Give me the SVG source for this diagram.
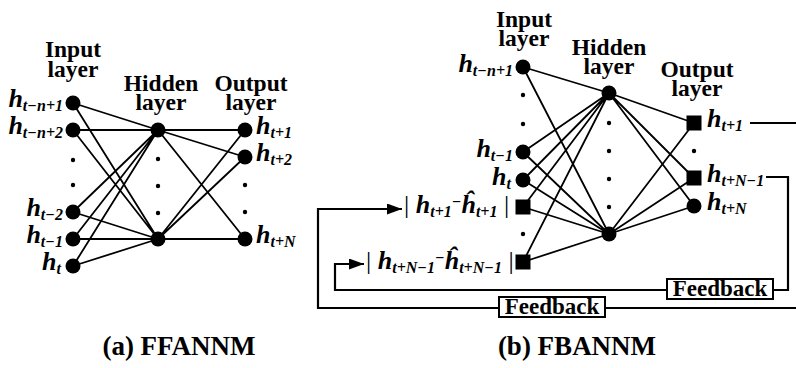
<svg xmlns="http://www.w3.org/2000/svg" width="796" height="368" viewBox="0 0 796 368">
<style>
.ln{stroke:#000;stroke-width:1.8;fill:none}
.fb{stroke:#000;stroke-width:2.2;fill:none}
.nd{fill:#000}
.hd{font-family:"Liberation Serif","Times New Roman",serif;font-weight:bold;font-size:23.5px;text-anchor:middle}
.lb{font-family:"Liberation Serif","Times New Roman",serif;font-weight:bold;font-style:italic;font-size:26px}
.sb{font-size:16px}
.bar{font-style:normal;font-weight:normal}
.box{fill:#fff;stroke:#000;stroke-width:2}
.bt{font-family:"Liberation Serif","Times New Roman",serif;font-weight:bold;font-size:23px;text-anchor:middle}
.cap{font-family:"Liberation Serif","Times New Roman",serif;font-weight:bold;font-size:27px;text-anchor:middle}
</style>
<defs>
<marker id="ar" markerWidth="15" markerHeight="11" refX="15" refY="5.5" orient="auto" markerUnits="userSpaceOnUse"><path d="M0,0 L15,5.5 L0,11 z" fill="#000"/></marker>
</defs>
<rect width="796" height="368" fill="#fff"/>

<g id="connectors">
<path class="ln" d="M73,103L158,130M73,103L158,239M73,130L158,130M73,130L158,239M73,212L158,130M73,212L158,239M73,239L158,130M73,239L158,239M73,266L158,130M73,266L158,239"/>
<path class="ln" d="M158,130L245,130M158,130L245,157M158,130L245,239M158,239L245,130M158,239L245,157M158,239L245,239"/>
<path class="ln" d="M523,67L609,93M523,67L609,234M523,152L609,93M523,152L609,234M523,180L609,93M523,180L609,234M523,207L609,93M523,207L609,234M523,262L609,93M523,262L609,234"/>
<path class="ln" d="M609,93L694,123M609,93L694,178M609,93L694,206M609,234L694,123M609,234L694,178M609,234L694,206"/>
<path class="fb" d="M750,123H799V308H318V209H402" marker-end="url(#ar)"/>
<path class="fb" d="M766,177H788V290H335V264H364" marker-end="url(#ar)"/>
</g>

<g id="feedback1"><rect class="box" x="499" y="297" width="106" height="20"/><text class="bt" x="552" y="314">Feedback</text></g>
<g id="feedback2"><rect class="box" x="667" y="279" width="106" height="20"/><text class="bt" x="720" y="296">Feedback</text></g>

<g id="headings">
<text class="hd" x="73" y="57">Input</text><text class="hd" x="73" y="77">layer</text>
<text class="hd" x="161" y="91">Hidden</text><text class="hd" x="161" y="110">layer</text>
<text class="hd" x="251" y="91">Output</text><text class="hd" x="251" y="110">layer</text>
<text class="hd" x="524" y="27">Input</text><text class="hd" x="524" y="46">layer</text>
<text class="hd" x="609" y="55">Hidden</text><text class="hd" x="609" y="74">layer</text>
<text class="hd" x="697" y="77">Output</text><text class="hd" x="697" y="96">layer</text>
</g>

<g id="a_in1"><circle class="nd" cx="73" cy="103" r="7.5"/><text class="lb" x="63" y="107" text-anchor="end">h<tspan class="sb" dy="4">t−n+1</tspan></text></g>
<g id="a_in2"><circle class="nd" cx="73" cy="130" r="7.5"/><text class="lb" x="63" y="134" text-anchor="end">h<tspan class="sb" dy="4">t−n+2</tspan></text></g>
<g id="a_indots"><circle class="nd" cx="73" cy="160" r="2.2"/><circle class="nd" cx="73" cy="185" r="2.2"/></g>
<g id="a_in3"><circle class="nd" cx="73" cy="212" r="7.5"/><text class="lb" x="63" y="216" text-anchor="end">h<tspan class="sb" dy="4">t−2</tspan></text></g>
<g id="a_in4"><circle class="nd" cx="73" cy="239" r="7.5"/><text class="lb" x="63" y="243" text-anchor="end">h<tspan class="sb" dy="4">t−1</tspan></text></g>
<g id="a_in5"><circle class="nd" cx="73" cy="266" r="7.5"/><text class="lb" x="61" y="270" text-anchor="end">h<tspan class="sb" dy="4">t</tspan></text></g>
<g id="a_hid1"><circle class="nd" cx="158" cy="130" r="7.5"/></g>
<g id="a_hiddots"><circle class="nd" cx="158" cy="159" r="2.2"/><circle class="nd" cx="158" cy="186" r="2.2"/><circle class="nd" cx="158" cy="213" r="2.2"/></g>
<g id="a_hid2"><circle class="nd" cx="158" cy="239" r="7.5"/></g>
<g id="a_out1"><circle class="nd" cx="245" cy="130" r="7.5"/><text class="lb" x="256" y="134">h<tspan class="sb" dy="4">t+1</tspan></text></g>
<g id="a_out2"><circle class="nd" cx="245" cy="157" r="7.5"/><text class="lb" x="256" y="161">h<tspan class="sb" dy="4">t+2</tspan></text></g>
<g id="a_outdots"><circle class="nd" cx="245" cy="185" r="2.2"/><circle class="nd" cx="245" cy="212" r="2.2"/></g>
<g id="a_out3"><circle class="nd" cx="245" cy="239" r="7.5"/><text class="lb" x="256" y="243">h<tspan class="sb" dy="4">t+N</tspan></text></g>

<g id="b_in1"><circle class="nd" cx="523" cy="67" r="7.5"/><text class="lb" x="513" y="72" text-anchor="end">h<tspan class="sb" dy="4">t−n+1</tspan></text></g>
<g id="b_indots1"><circle class="nd" cx="523" cy="95" r="2.2"/><circle class="nd" cx="523" cy="124" r="2.2"/></g>
<g id="b_in2"><circle class="nd" cx="523" cy="152" r="7.5"/><text class="lb" x="513" y="157" text-anchor="end">h<tspan class="sb" dy="4">t−1</tspan></text></g>
<g id="b_in3"><circle class="nd" cx="523" cy="180" r="7.5"/><text class="lb" x="511" y="185" text-anchor="end">h<tspan class="sb" dy="4">t</tspan></text></g>
<g id="b_in4"><rect class="nd" x="515.5" y="199.5" width="15" height="15"/><text class="lb" x="404" y="213"><tspan class="bar">|</tspan> h<tspan class="sb" dy="4">t+1</tspan><tspan class="sb" dy="-10">−</tspan><tspan dy="6">ĥ</tspan><tspan class="sb" dy="4">t+1</tspan><tspan class="bar" dy="-4"> |</tspan></text></g>
<g id="b_indots2"><circle class="nd" cx="523" cy="234" r="2.2"/></g>
<g id="b_in5"><rect class="nd" x="515.5" y="254.5" width="15" height="15"/><text class="lb" x="366" y="269"><tspan class="bar">|</tspan> h<tspan class="sb" dy="4">t+N−1</tspan><tspan class="sb" dy="-10">−</tspan><tspan dy="6">ĥ</tspan><tspan class="sb" dy="4">t+N−1</tspan><tspan class="bar" dy="-4"> |</tspan></text></g>
<g id="b_hid1"><circle class="nd" cx="609" cy="93" r="7.5"/></g>
<g id="b_hiddots"><circle class="nd" cx="609" cy="123" r="2.2"/><circle class="nd" cx="609" cy="151" r="2.2"/><circle class="nd" cx="609" cy="179" r="2.2"/><circle class="nd" cx="609" cy="207" r="2.2"/></g>
<g id="b_hid2"><circle class="nd" cx="609" cy="234" r="7.5"/></g>
<g id="b_out1"><rect class="nd" x="686.5" y="115.5" width="15" height="15"/><text class="lb" x="707" y="127">h<tspan class="sb" dy="4">t+1</tspan></text></g>
<g id="b_outdots"><circle class="nd" cx="694" cy="151" r="2.2"/></g>
<g id="b_out2"><rect class="nd" x="686.5" y="170.5" width="15" height="15"/><text class="lb" x="707" y="182">h<tspan class="sb" dy="4">t+N−1</tspan></text></g>
<g id="b_out3"><circle class="nd" cx="694" cy="206" r="7.5"/><text class="lb" x="707" y="210">h<tspan class="sb" dy="4">t+N</tspan></text></g>

<g id="captions">
<text class="cap" x="179" y="355">(a) FFANNM</text>
<text class="cap" x="577" y="355">(b) FBANNM</text>
</g>
</svg>
